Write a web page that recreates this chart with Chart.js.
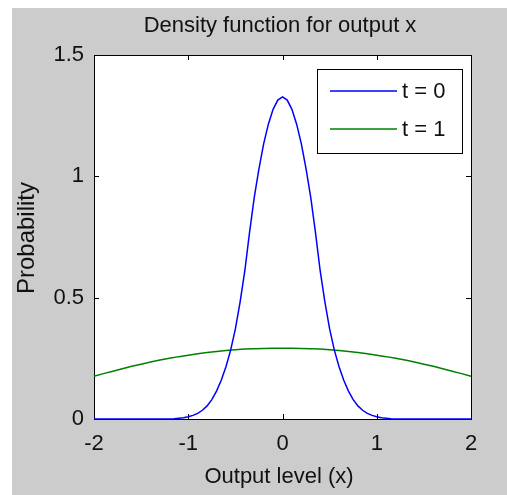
<!DOCTYPE html>
<html>
<head>
<meta charset="utf-8">
<script src="https://cdn.jsdelivr.net/npm/chart.js@4/dist/chart.umd.min.js"></script>
<style>
  html, body { margin: 0; padding: 0; background: #ffffff; }
  #wrap { width: 507px; height: 495px; position: relative; }
</style>
</head>
<body>
<div id="wrap"><canvas id="c" width="507" height="495"></canvas></div>
<script>
// ---- data ----
const chartTitle = "Density function for output x";
const xAxisTitle = "Output level (x)";
const yAxisTitle = "Probability";
const seriesLabels = ["t = 0", "t = 1"];

const blueX = [-2, -1.2, -1.15, -1.1, -1.05, -1.0, -0.95, -0.9, -0.85, -0.8, -0.75, -0.7, -0.65, -0.6, -0.55, -0.5, -0.45, -0.4, -0.35, -0.3, -0.25, -0.2, -0.15, -0.1, -0.05,
  0, 0.05, 0.1, 0.15, 0.2, 0.25, 0.3, 0.35, 0.4, 0.45, 0.5, 0.55, 0.6, 0.65, 0.7, 0.75, 0.8, 0.85, 0.9, 0.95, 1.0, 1.05, 1.1, 1.15, 1.2, 2];
const blueY = [0, 0, 0.001, 0.003, 0.005, 0.009, 0.015, 0.023, 0.036, 0.054, 0.080, 0.115, 0.160, 0.215, 0.284, 0.371, 0.482, 0.610, 0.768, 0.912, 1.031, 1.134, 1.215, 1.276, 1.314,
  1.327, 1.314, 1.276, 1.215, 1.134, 1.031, 0.912, 0.768, 0.610, 0.482, 0.371, 0.284, 0.215, 0.160, 0.115, 0.080, 0.054, 0.036, 0.023, 0.015, 0.009, 0.005, 0.003, 0.001, 0, 0];

const greenX = [-2, -1.9, -1.8, -1.7, -1.6, -1.5, -1.4, -1.3, -1.2, -1.1, -1.0, -0.9, -0.8, -0.7, -0.6, -0.5, -0.4, -0.3, -0.2, -0.1,
  0, 0.1, 0.2, 0.3, 0.4, 0.5, 0.6, 0.7, 0.8, 0.9, 1.0, 1.1, 1.2, 1.3, 1.4, 1.5, 1.6, 1.7, 1.8, 1.9, 2];
const greenY = [0.176, 0.187, 0.197, 0.207, 0.217, 0.226, 0.235, 0.243, 0.250, 0.257, 0.263, 0.269, 0.274, 0.278, 0.282, 0.285, 0.288, 0.290, 0.291, 0.292,
  0.292, 0.292, 0.291, 0.290, 0.288, 0.285, 0.282, 0.278, 0.274, 0.269, 0.263, 0.257, 0.250, 0.243, 0.235, 0.226, 0.217, 0.207, 0.197, 0.187, 0.176];

const xTicks = [-2, -1, 0, 1, 2];
const yTicks = [0, 0.5, 1, 1.5];

// ---- drawing ----
const FONT = "'Liberation Sans', Arial, Helvetica, sans-serif";

const decorPlugin = {
  id: 'decor',
  beforeDraw(chart) {
    const ctx = chart.ctx;
    const a = chart.chartArea;
    ctx.save();
    ctx.fillStyle = '#ffffff';
    ctx.fillRect(0, 0, chart.width, chart.height);
    ctx.fillStyle = '#cccccc';
    ctx.fillRect(12, 8, chart.width - 12, chart.height - 8);
    ctx.fillStyle = '#ffffff';
    ctx.fillRect(a.left, a.top, a.right - a.left, a.bottom - a.top);
    // titles
    ctx.fillStyle = '#111111';
    ctx.font = '22px ' + FONT;
    ctx.textAlign = 'center';
    ctx.textBaseline = 'middle';
    ctx.fillText(chartTitle, 280, 26);
    ctx.fillText(xAxisTitle, 279, 477);
    ctx.save();
    ctx.translate(27, 238);
    ctx.rotate(-Math.PI / 2);
    ctx.font = '24px ' + FONT;
    ctx.fillText(yAxisTitle, 0, 0);
    ctx.restore();
    ctx.restore();
  },
  beforeDatasetsDraw(chart) {
    const ctx = chart.ctx;
    const a = chart.chartArea;
    const xs = chart.scales.x, ys = chart.scales.y;
    ctx.save();
    ctx.strokeStyle = '#000000';
    ctx.lineWidth = 1;
    ctx.strokeRect(Math.round(a.left) + 0.5, Math.round(a.top) + 0.5,
      Math.round(a.right - a.left), Math.round(a.bottom - a.top));
    const tl = 5;
    ctx.beginPath();
    xTicks.forEach(v => {
      const px = Math.round(xs.getPixelForValue(v)) + 0.5;
      ctx.moveTo(px, a.bottom); ctx.lineTo(px, a.bottom - tl);
      ctx.moveTo(px, a.top); ctx.lineTo(px, a.top + tl);
    });
    yTicks.forEach(v => {
      const py = Math.round(ys.getPixelForValue(v)) + 0.5;
      ctx.moveTo(a.left, py); ctx.lineTo(a.left + tl, py);
      ctx.moveTo(a.right, py); ctx.lineTo(a.right - tl, py);
    });
    ctx.stroke();
    ctx.restore();
  },
  afterDatasetsDraw(chart) {
    const ctx = chart.ctx;
    ctx.save();
    // legend box
    const bx = 317, by = 69, bw = 145, bh = 84;
    ctx.fillStyle = '#ffffff';
    ctx.fillRect(bx, by, bw, bh);
    ctx.strokeStyle = '#000000';
    ctx.lineWidth = 1;
    ctx.strokeRect(bx + 0.5, by + 0.5, bw, bh);
    const rows = [91, 129];
    chart.data.datasets.forEach((ds, i) => {
      ctx.strokeStyle = ds.borderColor;
      ctx.lineWidth = 1.5;
      ctx.beginPath();
      ctx.moveTo(330, rows[i]);
      ctx.lineTo(397, rows[i]);
      ctx.stroke();
      ctx.fillStyle = '#111111';
      ctx.font = '22px ' + FONT;
      ctx.textAlign = 'left';
      ctx.textBaseline = 'middle';
      ctx.fillText(ds.label, 402, rows[i] + 1);
    });
    ctx.restore();
  }
};

const toPts = (xa, ya) => xa.map((x, i) => ({ x: x, y: ya[i] }));

new Chart(document.getElementById('c'), {
  type: 'line',
  data: {
    datasets: [
      { label: seriesLabels[0], data: toPts(blueX, blueY), borderColor: '#0000ff', borderWidth: 1.5,
        pointRadius: 0, tension: 0, fill: false, clip: false },
      { label: seriesLabels[1], data: toPts(greenX, greenY), borderColor: '#008000', borderWidth: 1.5,
        pointRadius: 0, tension: 0, fill: false, clip: false }
    ]
  },
  options: {
    responsive: false,
    animation: false,
    devicePixelRatio: 1,
    layout: { padding: { top: 55, right: 36, bottom: 0, left: 0 } },
    plugins: { legend: { display: false }, title: { display: false }, tooltip: { enabled: false } },
    scales: {
      x: {
        type: 'linear', min: -2, max: 2,
        afterFit(scale) { scale.height = 76; },
        afterBuildTicks(scale) { scale.ticks = xTicks.map(v => ({ value: v })); },
        grid: { display: false, drawTicks: false },
        border: { display: false },
        ticks: { color: '#111111', font: { family: FONT, size: 22 }, padding: 12, maxRotation: 0,
          callback: v => String(v) }
      },
      y: {
        type: 'linear', min: 0, max: 1.5,
        afterFit(scale) { scale.width = 94; },
        afterBuildTicks(scale) { scale.ticks = yTicks.map(v => ({ value: v })); },
        grid: { display: false, drawTicks: false },
        border: { display: false },
        ticks: { color: '#111111', font: { family: FONT, size: 22 }, padding: 10,
          callback: v => String(v) }
      }
    }
  },
  plugins: [decorPlugin]
});
</script>
</body>
</html>
